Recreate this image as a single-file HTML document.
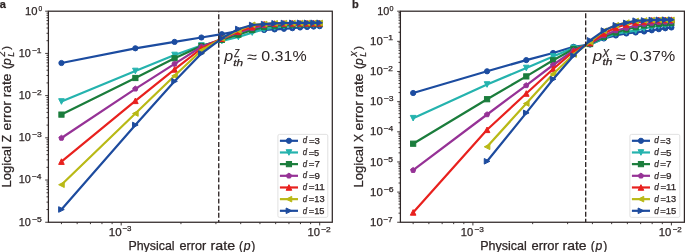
<!DOCTYPE html>
<html><head><meta charset="utf-8"><title>Logical error rates</title>
<style>html,body{margin:0;padding:0;background:#fff;width:685px;height:252px;overflow:hidden}</style>
</head><body>
<svg width="685" height="252" viewBox="0 0 685 252" style="display:block;will-change:transform">
<rect width="685" height="252" fill="#ffffff"/>
<g fill="#2e2626">
<clipPath id="clipa"><rect x="48.40" y="11.20" width="283.90" height="211.05"/></clipPath>
<g clip-path="url(#clipa)">
<polyline points="61.45,63.00 135.36,48.30 174.57,41.90 201.41,37.50 221.86,34.20 238.37,31.00 252.22,30.50 264.15,30.00 274.63,29.40 283.97,28.80 292.40,28.20 300.08,27.50 307.13,27.00 313.64,26.60 319.70,26.20" fill="none" stroke="#1c4ca0" stroke-width="2.2" stroke-linejoin="round" stroke-linecap="butt"/>
<g fill="#1c4ca0" stroke="#1c4ca0" stroke-width="1.0" stroke-linejoin="miter"><circle cx="61.45" cy="63.00" r="2.60"/><circle cx="135.36" cy="48.30" r="2.60"/><circle cx="174.57" cy="41.90" r="2.60"/><circle cx="201.41" cy="37.50" r="2.60"/><circle cx="221.86" cy="34.20" r="2.60"/><circle cx="238.37" cy="31.00" r="2.60"/><circle cx="252.22" cy="30.50" r="2.60"/><circle cx="264.15" cy="30.00" r="2.60"/><circle cx="274.63" cy="29.40" r="2.60"/><circle cx="283.97" cy="28.80" r="2.60"/><circle cx="292.40" cy="28.20" r="2.60"/><circle cx="300.08" cy="27.50" r="2.60"/><circle cx="307.13" cy="27.00" r="2.60"/><circle cx="313.64" cy="26.60" r="2.60"/><circle cx="319.70" cy="26.20" r="2.60"/></g>
<polyline points="61.45,101.50 135.36,71.00 174.57,55.00 201.41,45.50 221.86,41.00 238.37,37.00 252.22,32.60 264.15,29.30 274.63,27.50 283.97,26.30 292.40,25.60 300.08,25.10 307.13,24.80 313.64,24.60 319.70,24.50" fill="none" stroke="#25b3ae" stroke-width="2.2" stroke-linejoin="round" stroke-linecap="butt"/>
<g fill="#25b3ae" stroke="#25b3ae" stroke-width="1.0" stroke-linejoin="miter"><polygon points="61.45,104.30 58.65,98.70 64.25,98.70"/><polygon points="135.36,73.80 132.56,68.20 138.16,68.20"/><polygon points="174.57,57.80 171.77,52.20 177.37,52.20"/><polygon points="201.41,48.30 198.61,42.70 204.21,42.70"/><polygon points="221.86,43.80 219.06,38.20 224.66,38.20"/><polygon points="238.37,39.80 235.57,34.20 241.17,34.20"/><polygon points="252.22,35.40 249.42,29.80 255.02,29.80"/><polygon points="264.15,32.10 261.35,26.50 266.95,26.50"/><polygon points="274.63,30.30 271.83,24.70 277.43,24.70"/><polygon points="283.97,29.10 281.17,23.50 286.77,23.50"/><polygon points="292.40,28.40 289.60,22.80 295.20,22.80"/><polygon points="300.08,27.90 297.28,22.30 302.88,22.30"/><polygon points="307.13,27.60 304.33,22.00 309.93,22.00"/><polygon points="313.64,27.40 310.84,21.80 316.44,21.80"/><polygon points="319.70,27.30 316.90,21.70 322.50,21.70"/></g>
<polyline points="61.45,114.60 135.36,78.00 174.57,58.30 201.41,46.00 221.86,39.80 238.37,34.70 252.22,30.00 264.15,27.00 274.63,25.70 283.97,25.00 292.40,24.60 300.08,24.30 307.13,24.10 313.64,24.00 319.70,23.90" fill="none" stroke="#1b7d3c" stroke-width="2.2" stroke-linejoin="round" stroke-linecap="butt"/>
<g fill="#1b7d3c" stroke="#1b7d3c" stroke-width="1.0" stroke-linejoin="miter"><rect x="58.85" y="112.00" width="5.20" height="5.20"/><rect x="132.76" y="75.40" width="5.20" height="5.20"/><rect x="171.97" y="55.70" width="5.20" height="5.20"/><rect x="198.81" y="43.40" width="5.20" height="5.20"/><rect x="219.26" y="37.20" width="5.20" height="5.20"/><rect x="235.77" y="32.10" width="5.20" height="5.20"/><rect x="249.62" y="27.40" width="5.20" height="5.20"/><rect x="261.55" y="24.40" width="5.20" height="5.20"/><rect x="272.03" y="23.10" width="5.20" height="5.20"/><rect x="281.37" y="22.40" width="5.20" height="5.20"/><rect x="289.80" y="22.00" width="5.20" height="5.20"/><rect x="297.48" y="21.70" width="5.20" height="5.20"/><rect x="304.53" y="21.50" width="5.20" height="5.20"/><rect x="311.04" y="21.40" width="5.20" height="5.20"/><rect x="317.10" y="21.30" width="5.20" height="5.20"/></g>
<polyline points="61.45,138.00 135.36,88.80 174.57,63.90 201.41,46.80 221.86,39.00 238.37,32.50 252.22,28.30 264.15,25.50 274.63,24.50 283.97,24.00 292.40,23.80 300.08,23.70 307.13,23.60 313.64,23.50 319.70,23.50" fill="none" stroke="#963296" stroke-width="2.2" stroke-linejoin="round" stroke-linecap="butt"/>
<g fill="#963296" stroke="#963296" stroke-width="1.0" stroke-linejoin="miter"><polygon points="61.45,135.27 64.04,137.16 63.05,140.21 59.84,140.21 58.85,137.16"/><polygon points="135.36,86.07 137.96,87.96 136.97,91.01 133.76,91.01 132.77,87.96"/><polygon points="174.57,61.17 177.16,63.06 176.17,66.11 172.96,66.11 171.97,63.06"/><polygon points="201.41,44.07 204.01,45.96 203.02,49.01 199.81,49.01 198.82,45.96"/><polygon points="221.86,36.27 224.45,38.16 223.46,41.21 220.25,41.21 219.26,38.16"/><polygon points="238.37,29.77 240.96,31.66 239.97,34.71 236.76,34.71 235.77,31.66"/><polygon points="252.22,25.57 254.82,27.46 253.82,30.51 250.62,30.51 249.62,27.46"/><polygon points="264.15,22.77 266.75,24.66 265.76,27.71 262.55,27.71 261.56,24.66"/><polygon points="274.63,21.77 277.23,23.66 276.24,26.71 273.03,26.71 272.03,23.66"/><polygon points="283.97,21.27 286.57,23.16 285.58,26.21 282.37,26.21 281.38,23.16"/><polygon points="292.40,21.07 295.00,22.96 294.01,26.01 290.80,26.01 289.80,22.96"/><polygon points="300.08,20.97 302.67,22.86 301.68,25.91 298.47,25.91 297.48,22.86"/><polygon points="307.13,20.87 309.72,22.76 308.73,25.81 305.52,25.81 304.53,22.76"/><polygon points="313.64,20.77 316.24,22.66 315.25,25.71 312.04,25.71 311.05,22.66"/><polygon points="319.70,20.77 322.30,22.66 321.30,25.71 318.10,25.71 317.10,22.66"/></g>
<polyline points="61.45,161.60 135.36,100.80 174.57,69.40 201.41,48.50 221.86,38.60 238.37,31.50 252.22,27.00 264.15,24.10 274.63,23.50 283.97,23.30 292.40,23.30 300.08,23.30 307.13,23.30 313.64,23.30 319.70,23.30" fill="none" stroke="#e8211e" stroke-width="2.2" stroke-linejoin="round" stroke-linecap="butt"/>
<g fill="#e8211e" stroke="#e8211e" stroke-width="1.0" stroke-linejoin="miter"><polygon points="61.45,158.80 58.65,164.40 64.25,164.40"/><polygon points="135.36,98.00 132.56,103.60 138.16,103.60"/><polygon points="174.57,66.60 171.77,72.20 177.37,72.20"/><polygon points="201.41,45.70 198.61,51.30 204.21,51.30"/><polygon points="221.86,35.80 219.06,41.40 224.66,41.40"/><polygon points="238.37,28.70 235.57,34.30 241.17,34.30"/><polygon points="252.22,24.20 249.42,29.80 255.02,29.80"/><polygon points="264.15,21.30 261.35,26.90 266.95,26.90"/><polygon points="274.63,20.70 271.83,26.30 277.43,26.30"/><polygon points="283.97,20.50 281.17,26.10 286.77,26.10"/><polygon points="292.40,20.50 289.60,26.10 295.20,26.10"/><polygon points="300.08,20.50 297.28,26.10 302.88,26.10"/><polygon points="307.13,20.50 304.33,26.10 309.93,26.10"/><polygon points="313.64,20.50 310.84,26.10 316.44,26.10"/><polygon points="319.70,20.50 316.90,26.10 322.50,26.10"/></g>
<polyline points="61.45,184.70 135.36,113.50 174.57,75.80 201.41,50.50 221.86,38.40 238.37,30.50 252.22,24.80 264.15,24.00 274.63,23.30 283.97,23.10 292.40,23.00 300.08,23.00 307.13,23.00 313.64,23.00 319.70,23.00" fill="none" stroke="#b9b916" stroke-width="2.2" stroke-linejoin="round" stroke-linecap="butt"/>
<g fill="#b9b916" stroke="#b9b916" stroke-width="1.0" stroke-linejoin="miter"><polygon points="58.65,184.70 64.25,181.90 64.25,187.50"/><polygon points="132.56,113.50 138.16,110.70 138.16,116.30"/><polygon points="171.77,75.80 177.37,73.00 177.37,78.60"/><polygon points="198.61,50.50 204.21,47.70 204.21,53.30"/><polygon points="219.06,38.40 224.66,35.60 224.66,41.20"/><polygon points="235.57,30.50 241.17,27.70 241.17,33.30"/><polygon points="249.42,24.80 255.02,22.00 255.02,27.60"/><polygon points="261.35,24.00 266.95,21.20 266.95,26.80"/><polygon points="271.83,23.30 277.43,20.50 277.43,26.10"/><polygon points="281.17,23.10 286.77,20.30 286.77,25.90"/><polygon points="289.60,23.00 295.20,20.20 295.20,25.80"/><polygon points="297.28,23.00 302.88,20.20 302.88,25.80"/><polygon points="304.33,23.00 309.93,20.20 309.93,25.80"/><polygon points="310.84,23.00 316.44,20.20 316.44,25.80"/><polygon points="316.90,23.00 322.50,20.20 322.50,25.80"/></g>
<polyline points="61.45,209.50 135.36,125.00 174.57,81.30 201.41,53.50 221.86,38.30 238.37,29.00 252.22,25.00 264.15,24.10 274.63,23.30 283.97,23.00 292.40,22.80 300.08,22.80 307.13,22.80 313.64,22.80 319.70,22.80" fill="none" stroke="#1d4b9e" stroke-width="2.2" stroke-linejoin="round" stroke-linecap="butt"/>
<g fill="#1d4b9e" stroke="#1d4b9e" stroke-width="1.0" stroke-linejoin="miter"><polygon points="64.25,209.50 58.65,206.70 58.65,212.30"/><polygon points="138.16,125.00 132.56,122.20 132.56,127.80"/><polygon points="177.37,81.30 171.77,78.50 171.77,84.10"/><polygon points="204.21,53.50 198.61,50.70 198.61,56.30"/><polygon points="224.66,38.30 219.06,35.50 219.06,41.10"/><polygon points="241.17,29.00 235.57,26.20 235.57,31.80"/><polygon points="255.02,25.00 249.42,22.20 249.42,27.80"/><polygon points="266.95,24.10 261.35,21.30 261.35,26.90"/><polygon points="277.43,23.30 271.83,20.50 271.83,26.10"/><polygon points="286.77,23.00 281.17,20.20 281.17,25.80"/><polygon points="295.20,22.80 289.60,20.00 289.60,25.60"/><polygon points="302.88,22.80 297.28,20.00 297.28,25.60"/><polygon points="309.93,22.80 304.33,20.00 304.33,25.60"/><polygon points="316.44,22.80 310.84,20.00 310.84,25.60"/><polygon points="322.50,22.80 316.90,20.00 316.90,25.60"/></g>
<line x1="218.74" y1="11.20" x2="218.74" y2="222.25" stroke="#2e2626" stroke-width="1.35" stroke-dasharray="4.95,2.14" stroke-dashoffset="3.96"/>
</g>
<rect x="48.40" y="11.20" width="283.90" height="211.05" fill="none" stroke="#2e2626" stroke-width="1.25"/>
<path d="M61.45 222.25v1.9 M77.16 222.25v1.9 M90.45 222.25v1.9 M101.96 222.25v1.9 M112.12 222.25v1.9 M121.20 222.25v3.2 M180.95 222.25v1.9 M215.91 222.25v1.9 M240.71 222.25v1.9 M259.95 222.25v1.9 M275.66 222.25v1.9 M288.95 222.25v1.9 M300.46 222.25v1.9 M310.62 222.25v1.9 M319.70 222.25v3.2 M48.40 11.20h-3.2 M48.40 40.70h-1.9 M48.40 33.27h-1.9 M48.40 28.00h-1.9 M48.40 23.91h-1.9 M48.40 20.56h-1.9 M48.40 17.74h-1.9 M48.40 15.29h-1.9 M48.40 13.13h-1.9 M48.40 53.41h-3.2 M48.40 82.91h-1.9 M48.40 75.48h-1.9 M48.40 70.21h-1.9 M48.40 66.12h-1.9 M48.40 62.77h-1.9 M48.40 59.95h-1.9 M48.40 57.50h-1.9 M48.40 55.34h-1.9 M48.40 95.62h-3.2 M48.40 125.12h-1.9 M48.40 117.69h-1.9 M48.40 112.42h-1.9 M48.40 108.33h-1.9 M48.40 104.98h-1.9 M48.40 102.16h-1.9 M48.40 99.71h-1.9 M48.40 97.55h-1.9 M48.40 137.83h-3.2 M48.40 167.33h-1.9 M48.40 159.90h-1.9 M48.40 154.63h-1.9 M48.40 150.54h-1.9 M48.40 147.19h-1.9 M48.40 144.37h-1.9 M48.40 141.92h-1.9 M48.40 139.76h-1.9 M48.40 180.04h-3.2 M48.40 209.54h-1.9 M48.40 202.11h-1.9 M48.40 196.84h-1.9 M48.40 192.75h-1.9 M48.40 189.40h-1.9 M48.40 186.58h-1.9 M48.40 184.13h-1.9 M48.40 181.97h-1.9 M48.40 222.25h-3.2" stroke="#2e2626" stroke-width="0.9" fill="none"/>
<rect x="277.90" y="134.40" width="49.90" height="83.00" rx="1.6" fill="#ffffff" fill-opacity="0.8" stroke="#dedede" stroke-width="0.9"/>
<line x1="279.90" y1="140.80" x2="298.00" y2="140.80" stroke="#1c4ca0" stroke-width="2.2"/>
<g fill="#1c4ca0" stroke="#1c4ca0" stroke-width="1.0"><circle cx="288.95" cy="140.80" r="2.60"/></g>
<line x1="279.90" y1="152.47" x2="298.00" y2="152.47" stroke="#25b3ae" stroke-width="2.2"/>
<g fill="#25b3ae" stroke="#25b3ae" stroke-width="1.0"><polygon points="288.95,155.27 286.15,149.67 291.75,149.67"/></g>
<line x1="279.90" y1="164.13" x2="298.00" y2="164.13" stroke="#1b7d3c" stroke-width="2.2"/>
<g fill="#1b7d3c" stroke="#1b7d3c" stroke-width="1.0"><rect x="286.35" y="161.53" width="5.20" height="5.20"/></g>
<line x1="279.90" y1="175.80" x2="298.00" y2="175.80" stroke="#963296" stroke-width="2.2"/>
<g fill="#963296" stroke="#963296" stroke-width="1.0"><polygon points="288.95,173.07 291.55,174.96 290.55,178.01 287.35,178.01 286.35,174.96"/></g>
<line x1="279.90" y1="187.47" x2="298.00" y2="187.47" stroke="#e8211e" stroke-width="2.2"/>
<g fill="#e8211e" stroke="#e8211e" stroke-width="1.0"><polygon points="288.95,184.67 286.15,190.27 291.75,190.27"/></g>
<line x1="279.90" y1="199.14" x2="298.00" y2="199.14" stroke="#b9b916" stroke-width="2.2"/>
<g fill="#b9b916" stroke="#b9b916" stroke-width="1.0"><polygon points="286.15,199.14 291.75,196.34 291.75,201.94"/></g>
<line x1="279.90" y1="210.80" x2="298.00" y2="210.80" stroke="#1d4b9e" stroke-width="2.2"/>
<g fill="#1d4b9e" stroke="#1d4b9e" stroke-width="1.0"><polygon points="291.75,210.80 286.15,208.00 286.15,213.60"/></g>
<clipPath id="clipb"><rect x="400.40" y="11.20" width="284.00" height="211.05"/></clipPath>
<g clip-path="url(#clipb)">
<polyline points="413.15,93.00 487.06,71.30 526.27,60.10 553.11,53.00 573.56,46.80 590.07,44.50 603.92,38.50 615.85,35.50 626.33,33.50 635.67,32.50 644.10,31.50 651.78,30.30 658.83,29.20 665.34,28.30 671.40,27.50" fill="none" stroke="#1c4ca0" stroke-width="2.2" stroke-linejoin="round" stroke-linecap="butt"/>
<g fill="#1c4ca0" stroke="#1c4ca0" stroke-width="1.0" stroke-linejoin="miter"><circle cx="413.15" cy="93.00" r="2.60"/><circle cx="487.06" cy="71.30" r="2.60"/><circle cx="526.27" cy="60.10" r="2.60"/><circle cx="553.11" cy="53.00" r="2.60"/><circle cx="573.56" cy="46.80" r="2.60"/><circle cx="590.07" cy="44.50" r="2.60"/><circle cx="603.92" cy="38.50" r="2.60"/><circle cx="615.85" cy="35.50" r="2.60"/><circle cx="626.33" cy="33.50" r="2.60"/><circle cx="635.67" cy="32.50" r="2.60"/><circle cx="644.10" cy="31.50" r="2.60"/><circle cx="651.78" cy="30.30" r="2.60"/><circle cx="658.83" cy="29.20" r="2.60"/><circle cx="665.34" cy="28.30" r="2.60"/><circle cx="671.40" cy="27.50" r="2.60"/></g>
<polyline points="413.15,118.20 487.06,84.50 526.27,68.00 553.11,56.50 573.56,47.80 590.07,44.50 603.92,38.00 615.85,33.60 626.33,31.80 635.67,30.70 644.10,28.50 651.78,27.00 658.83,26.00 665.34,25.20 671.40,24.50" fill="none" stroke="#25b3ae" stroke-width="2.2" stroke-linejoin="round" stroke-linecap="butt"/>
<g fill="#25b3ae" stroke="#25b3ae" stroke-width="1.0" stroke-linejoin="miter"><polygon points="413.15,121.00 410.35,115.40 415.95,115.40"/><polygon points="487.06,87.30 484.26,81.70 489.86,81.70"/><polygon points="526.27,70.80 523.47,65.20 529.07,65.20"/><polygon points="553.11,59.30 550.31,53.70 555.91,53.70"/><polygon points="573.56,50.60 570.76,45.00 576.36,45.00"/><polygon points="590.07,47.30 587.27,41.70 592.87,41.70"/><polygon points="603.92,40.80 601.12,35.20 606.72,35.20"/><polygon points="615.85,36.40 613.05,30.80 618.65,30.80"/><polygon points="626.33,34.60 623.53,29.00 629.13,29.00"/><polygon points="635.67,33.50 632.87,27.90 638.47,27.90"/><polygon points="644.10,31.30 641.30,25.70 646.90,25.70"/><polygon points="651.78,29.80 648.98,24.20 654.58,24.20"/><polygon points="658.83,28.80 656.03,23.20 661.63,23.20"/><polygon points="665.34,28.00 662.54,22.40 668.14,22.40"/><polygon points="671.40,27.30 668.60,21.70 674.20,21.70"/></g>
<polyline points="413.15,143.70 487.06,99.20 526.27,76.40 553.11,60.30 573.56,49.00 590.07,44.00 603.92,36.80 615.85,32.50 626.33,29.50 635.67,27.20 644.10,25.50 651.78,24.50 658.83,23.80 665.34,23.20 671.40,22.90" fill="none" stroke="#1b7d3c" stroke-width="2.2" stroke-linejoin="round" stroke-linecap="butt"/>
<g fill="#1b7d3c" stroke="#1b7d3c" stroke-width="1.0" stroke-linejoin="miter"><rect x="410.55" y="141.10" width="5.20" height="5.20"/><rect x="484.46" y="96.60" width="5.20" height="5.20"/><rect x="523.67" y="73.80" width="5.20" height="5.20"/><rect x="550.51" y="57.70" width="5.20" height="5.20"/><rect x="570.96" y="46.40" width="5.20" height="5.20"/><rect x="587.47" y="41.40" width="5.20" height="5.20"/><rect x="601.32" y="34.20" width="5.20" height="5.20"/><rect x="613.25" y="29.90" width="5.20" height="5.20"/><rect x="623.73" y="26.90" width="5.20" height="5.20"/><rect x="633.07" y="24.60" width="5.20" height="5.20"/><rect x="641.50" y="22.90" width="5.20" height="5.20"/><rect x="649.18" y="21.90" width="5.20" height="5.20"/><rect x="656.23" y="21.20" width="5.20" height="5.20"/><rect x="662.74" y="20.60" width="5.20" height="5.20"/><rect x="668.80" y="20.30" width="5.20" height="5.20"/></g>
<polyline points="413.15,170.20 487.06,114.50 526.27,85.40 553.11,65.00 573.56,50.50 590.07,43.50 603.92,35.50 615.85,30.50 626.33,28.00 635.67,25.50 644.10,24.00 651.78,23.00 658.83,22.30 665.34,21.90 671.40,21.60" fill="none" stroke="#963296" stroke-width="2.2" stroke-linejoin="round" stroke-linecap="butt"/>
<g fill="#963296" stroke="#963296" stroke-width="1.0" stroke-linejoin="miter"><polygon points="413.15,167.47 415.74,169.36 414.75,172.41 411.54,172.41 410.55,169.36"/><polygon points="487.06,111.77 489.66,113.66 488.67,116.71 485.46,116.71 484.47,113.66"/><polygon points="526.27,82.67 528.86,84.56 527.87,87.61 524.66,87.61 523.67,84.56"/><polygon points="553.11,62.27 555.71,64.16 554.72,67.21 551.51,67.21 550.52,64.16"/><polygon points="573.56,47.77 576.15,49.66 575.16,52.71 571.95,52.71 570.96,49.66"/><polygon points="590.07,40.77 592.66,42.66 591.67,45.71 588.46,45.71 587.47,42.66"/><polygon points="603.92,32.77 606.52,34.66 605.52,37.71 602.32,37.71 601.32,34.66"/><polygon points="615.85,27.77 618.45,29.66 617.46,32.71 614.25,32.71 613.26,29.66"/><polygon points="626.33,25.27 628.93,27.16 627.94,30.21 624.73,30.21 623.73,27.16"/><polygon points="635.67,22.77 638.27,24.66 637.28,27.71 634.07,27.71 633.08,24.66"/><polygon points="644.10,21.27 646.70,23.16 645.71,26.21 642.50,26.21 641.50,23.16"/><polygon points="651.78,20.27 654.37,22.16 653.38,25.21 650.17,25.21 649.18,22.16"/><polygon points="658.83,19.57 661.42,21.46 660.43,24.51 657.22,24.51 656.23,21.46"/><polygon points="665.34,19.17 667.94,21.06 666.95,24.11 663.74,24.11 662.75,21.06"/><polygon points="671.40,18.87 674.00,20.76 673.00,23.81 669.80,23.81 668.80,20.76"/></g>
<polyline points="413.15,212.40 487.06,129.80 526.27,93.50 553.11,69.00 573.56,51.50 590.07,43.00 603.92,33.40 615.85,27.50 626.33,24.50 635.67,22.50 644.10,21.50 651.78,20.20 658.83,19.90 665.34,19.80 671.40,19.70" fill="none" stroke="#e8211e" stroke-width="2.2" stroke-linejoin="round" stroke-linecap="butt"/>
<g fill="#e8211e" stroke="#e8211e" stroke-width="1.0" stroke-linejoin="miter"><polygon points="413.15,209.60 410.35,215.20 415.95,215.20"/><polygon points="487.06,127.00 484.26,132.60 489.86,132.60"/><polygon points="526.27,90.70 523.47,96.30 529.07,96.30"/><polygon points="553.11,66.20 550.31,71.80 555.91,71.80"/><polygon points="573.56,48.70 570.76,54.30 576.36,54.30"/><polygon points="590.07,40.20 587.27,45.80 592.87,45.80"/><polygon points="603.92,30.60 601.12,36.20 606.72,36.20"/><polygon points="615.85,24.70 613.05,30.30 618.65,30.30"/><polygon points="626.33,21.70 623.53,27.30 629.13,27.30"/><polygon points="635.67,19.70 632.87,25.30 638.47,25.30"/><polygon points="644.10,18.70 641.30,24.30 646.90,24.30"/><polygon points="651.78,17.40 648.98,23.00 654.58,23.00"/><polygon points="658.83,17.10 656.03,22.70 661.63,22.70"/><polygon points="665.34,17.00 662.54,22.60 668.14,22.60"/><polygon points="671.40,16.90 668.60,22.50 674.20,22.50"/></g>
<polyline points="487.06,146.80 526.27,103.50 553.11,74.00 573.56,54.50 590.07,42.00 603.92,30.80 615.85,25.30 626.33,22.60 635.67,21.00 644.10,20.50 651.78,20.10 658.83,20.00 665.34,19.90 671.40,19.90" fill="none" stroke="#b9b916" stroke-width="2.2" stroke-linejoin="round" stroke-linecap="butt"/>
<g fill="#b9b916" stroke="#b9b916" stroke-width="1.0" stroke-linejoin="miter"><polygon points="484.26,146.80 489.86,144.00 489.86,149.60"/><polygon points="523.47,103.50 529.07,100.70 529.07,106.30"/><polygon points="550.31,74.00 555.91,71.20 555.91,76.80"/><polygon points="570.76,54.50 576.36,51.70 576.36,57.30"/><polygon points="587.27,42.00 592.87,39.20 592.87,44.80"/><polygon points="601.12,30.80 606.72,28.00 606.72,33.60"/><polygon points="613.05,25.30 618.65,22.50 618.65,28.10"/><polygon points="623.53,22.60 629.13,19.80 629.13,25.40"/><polygon points="632.87,21.00 638.47,18.20 638.47,23.80"/><polygon points="641.30,20.50 646.90,17.70 646.90,23.30"/><polygon points="648.98,20.10 654.58,17.30 654.58,22.90"/><polygon points="656.03,20.00 661.63,17.20 661.63,22.80"/><polygon points="662.54,19.90 668.14,17.10 668.14,22.70"/><polygon points="668.60,19.90 674.20,17.10 674.20,22.70"/></g>
<polyline points="487.06,161.30 526.27,112.90 553.11,79.20 573.56,55.70 590.07,40.40 603.92,30.60 615.85,25.30 626.33,22.90 635.67,20.70 644.10,20.50 651.78,20.00 658.83,19.80 665.34,19.70 671.40,19.70" fill="none" stroke="#1d4b9e" stroke-width="2.2" stroke-linejoin="round" stroke-linecap="butt"/>
<g fill="#1d4b9e" stroke="#1d4b9e" stroke-width="1.0" stroke-linejoin="miter"><polygon points="489.86,161.30 484.26,158.50 484.26,164.10"/><polygon points="529.07,112.90 523.47,110.10 523.47,115.70"/><polygon points="555.91,79.20 550.31,76.40 550.31,82.00"/><polygon points="576.36,55.70 570.76,52.90 570.76,58.50"/><polygon points="592.87,40.40 587.27,37.60 587.27,43.20"/><polygon points="606.72,30.60 601.12,27.80 601.12,33.40"/><polygon points="618.65,25.30 613.05,22.50 613.05,28.10"/><polygon points="629.13,22.90 623.53,20.10 623.53,25.70"/><polygon points="638.47,20.70 632.87,17.90 632.87,23.50"/><polygon points="646.90,20.50 641.30,17.70 641.30,23.30"/><polygon points="654.58,20.00 648.98,17.20 648.98,22.80"/><polygon points="661.63,19.80 656.03,17.00 656.03,22.60"/><polygon points="668.14,19.70 662.54,16.90 662.54,22.50"/><polygon points="674.20,19.70 668.60,16.90 668.60,22.50"/></g>
<line x1="585.69" y1="11.20" x2="585.69" y2="222.25" stroke="#2e2626" stroke-width="1.35" stroke-dasharray="4.95,2.14" stroke-dashoffset="5.06"/>
</g>
<rect x="400.40" y="11.20" width="284.00" height="211.05" fill="none" stroke="#2e2626" stroke-width="1.25"/>
<path d="M413.15 222.25v1.9 M428.86 222.25v1.9 M442.15 222.25v1.9 M453.66 222.25v1.9 M463.82 222.25v1.9 M472.90 222.25v3.2 M532.65 222.25v1.9 M567.61 222.25v1.9 M592.41 222.25v1.9 M611.65 222.25v1.9 M627.36 222.25v1.9 M640.65 222.25v1.9 M652.16 222.25v1.9 M662.32 222.25v1.9 M671.40 222.25v3.2 M400.40 11.20h-3.2 M400.40 32.27h-1.9 M400.40 26.96h-1.9 M400.40 23.20h-1.9 M400.40 20.28h-1.9 M400.40 17.89h-1.9 M400.40 15.87h-1.9 M400.40 14.12h-1.9 M400.40 12.58h-1.9 M400.40 41.35h-3.2 M400.40 62.42h-1.9 M400.40 57.11h-1.9 M400.40 53.35h-1.9 M400.40 50.43h-1.9 M400.40 48.04h-1.9 M400.40 46.02h-1.9 M400.40 44.27h-1.9 M400.40 42.73h-1.9 M400.40 71.50h-3.2 M400.40 92.57h-1.9 M400.40 87.26h-1.9 M400.40 83.50h-1.9 M400.40 80.58h-1.9 M400.40 78.19h-1.9 M400.40 76.17h-1.9 M400.40 74.42h-1.9 M400.40 72.88h-1.9 M400.40 101.65h-3.2 M400.40 122.72h-1.9 M400.40 117.41h-1.9 M400.40 113.65h-1.9 M400.40 110.73h-1.9 M400.40 108.34h-1.9 M400.40 106.32h-1.9 M400.40 104.57h-1.9 M400.40 103.03h-1.9 M400.40 131.80h-3.2 M400.40 152.87h-1.9 M400.40 147.56h-1.9 M400.40 143.80h-1.9 M400.40 140.88h-1.9 M400.40 138.49h-1.9 M400.40 136.47h-1.9 M400.40 134.72h-1.9 M400.40 133.18h-1.9 M400.40 161.95h-3.2 M400.40 183.02h-1.9 M400.40 177.71h-1.9 M400.40 173.95h-1.9 M400.40 171.03h-1.9 M400.40 168.64h-1.9 M400.40 166.62h-1.9 M400.40 164.87h-1.9 M400.40 163.33h-1.9 M400.40 192.10h-3.2 M400.40 213.17h-1.9 M400.40 207.86h-1.9 M400.40 204.10h-1.9 M400.40 201.18h-1.9 M400.40 198.79h-1.9 M400.40 196.77h-1.9 M400.40 195.02h-1.9 M400.40 193.48h-1.9 M400.40 222.25h-3.2" stroke="#2e2626" stroke-width="0.9" fill="none"/>
<rect x="629.90" y="134.40" width="49.90" height="83.00" rx="1.6" fill="#ffffff" fill-opacity="0.8" stroke="#dedede" stroke-width="0.9"/>
<line x1="631.90" y1="140.80" x2="650.00" y2="140.80" stroke="#1c4ca0" stroke-width="2.2"/>
<g fill="#1c4ca0" stroke="#1c4ca0" stroke-width="1.0"><circle cx="640.95" cy="140.80" r="2.60"/></g>
<line x1="631.90" y1="152.47" x2="650.00" y2="152.47" stroke="#25b3ae" stroke-width="2.2"/>
<g fill="#25b3ae" stroke="#25b3ae" stroke-width="1.0"><polygon points="640.95,155.27 638.15,149.67 643.75,149.67"/></g>
<line x1="631.90" y1="164.13" x2="650.00" y2="164.13" stroke="#1b7d3c" stroke-width="2.2"/>
<g fill="#1b7d3c" stroke="#1b7d3c" stroke-width="1.0"><rect x="638.35" y="161.53" width="5.20" height="5.20"/></g>
<line x1="631.90" y1="175.80" x2="650.00" y2="175.80" stroke="#963296" stroke-width="2.2"/>
<g fill="#963296" stroke="#963296" stroke-width="1.0"><polygon points="640.95,173.07 643.55,174.96 642.55,178.01 639.35,178.01 638.35,174.96"/></g>
<line x1="631.90" y1="187.47" x2="650.00" y2="187.47" stroke="#e8211e" stroke-width="2.2"/>
<g fill="#e8211e" stroke="#e8211e" stroke-width="1.0"><polygon points="640.95,184.67 638.15,190.27 643.75,190.27"/></g>
<line x1="631.90" y1="199.14" x2="650.00" y2="199.14" stroke="#b9b916" stroke-width="2.2"/>
<g fill="#b9b916" stroke="#b9b916" stroke-width="1.0"><polygon points="638.15,199.14 643.75,196.34 643.75,201.94"/></g>
<line x1="631.90" y1="210.80" x2="650.00" y2="210.80" stroke="#1d4b9e" stroke-width="2.2"/>
<g fill="#1d4b9e" stroke="#1d4b9e" stroke-width="1.0"><polygon points="643.75,210.80 638.15,208.00 638.15,213.60"/></g>
<text id="t_a" x="-0.200" y="8.200" style="font-family:'Liberation Sans',sans-serif;font-size:11.000px;stroke:#2e2626;stroke-width:0.25px;font-weight:bold">a</text>
<text id="t_ay0m" x="24.998" y="14.978" textLength="12.522" lengthAdjust="spacingAndGlyphs" style="font-family:'Liberation Sans',sans-serif;font-size:11.200px;stroke:#2e2626;stroke-width:0.25px">10</text>
<text id="t_ay0s" x="38.502" y="10.618" textLength="3.699" lengthAdjust="spacingAndGlyphs" style="font-family:'Liberation Sans',sans-serif;font-size:7.200px;stroke:#2e2626;stroke-width:0.25px">0</text>
<text id="t_ay1m" x="18.641" y="57.182" textLength="12.101" lengthAdjust="spacingAndGlyphs" style="font-family:'Liberation Sans',sans-serif;font-size:11.200px;stroke:#2e2626;stroke-width:0.25px">10</text>
<text id="t_ay1s" x="31.948" y="52.982" textLength="9.635" lengthAdjust="spacingAndGlyphs" style="font-family:'Liberation Sans',sans-serif;font-size:7.200px;stroke:#2e2626;stroke-width:0.25px">−1</text>
<text id="t_ay2m" x="18.641" y="99.206" textLength="12.101" lengthAdjust="spacingAndGlyphs" style="font-family:'Liberation Sans',sans-serif;font-size:11.200px;stroke:#2e2626;stroke-width:0.25px">10</text>
<text id="t_ay2s" x="32.049" y="95.006" textLength="9.548" lengthAdjust="spacingAndGlyphs" style="font-family:'Liberation Sans',sans-serif;font-size:7.200px;stroke:#2e2626;stroke-width:0.25px">−2</text>
<text id="t_ay3m" x="18.641" y="141.230" textLength="12.101" lengthAdjust="spacingAndGlyphs" style="font-family:'Liberation Sans',sans-serif;font-size:11.200px;stroke:#2e2626;stroke-width:0.25px">10</text>
<text id="t_ay3s" x="32.074" y="137.482" textLength="9.732" lengthAdjust="spacingAndGlyphs" style="font-family:'Liberation Sans',sans-serif;font-size:7.200px;stroke:#2e2626;stroke-width:0.25px">−3</text>
<text id="t_ay4m" x="18.641" y="183.254" textLength="12.101" lengthAdjust="spacingAndGlyphs" style="font-family:'Liberation Sans',sans-serif;font-size:11.200px;stroke:#2e2626;stroke-width:0.25px">10</text>
<text id="t_ay4s" x="31.874" y="179.243" textLength="9.528" lengthAdjust="spacingAndGlyphs" style="font-family:'Liberation Sans',sans-serif;font-size:7.200px;stroke:#2e2626;stroke-width:0.25px">−4</text>
<text id="t_ay5m" x="18.641" y="226.178" textLength="12.101" lengthAdjust="spacingAndGlyphs" style="font-family:'Liberation Sans',sans-serif;font-size:11.200px;stroke:#2e2626;stroke-width:0.25px">10</text>
<text id="t_ay5s" x="32.086" y="221.560" textLength="9.759" lengthAdjust="spacingAndGlyphs" style="font-family:'Liberation Sans',sans-serif;font-size:7.200px;stroke:#2e2626;stroke-width:0.25px">−5</text>
<text id="t_ax3m" x="108.798" y="235.718" textLength="12.860" lengthAdjust="spacingAndGlyphs" style="font-family:'Liberation Sans',sans-serif;font-size:11.200px;stroke:#2e2626;stroke-width:0.25px">10</text>
<text id="t_ax3s" x="122.452" y="231.458" textLength="9.059" lengthAdjust="spacingAndGlyphs" style="font-family:'Liberation Sans',sans-serif;font-size:7.600px;stroke:#2e2626;stroke-width:0.25px">−3</text>
<text id="t_ax2m" x="307.508" y="235.718" textLength="12.489" lengthAdjust="spacingAndGlyphs" style="font-family:'Liberation Sans',sans-serif;font-size:11.200px;stroke:#2e2626;stroke-width:0.25px">10</text>
<text id="t_ax2s" x="321.173" y="231.978" textLength="9.559" lengthAdjust="spacingAndGlyphs" style="font-family:'Liberation Sans',sans-serif;font-size:7.600px;stroke:#2e2626;stroke-width:0.25px">−2</text>
<text id="t_aan_p" x="224.197" y="61.336" textLength="8.897" lengthAdjust="spacingAndGlyphs" style="font-family:'Liberation Sans',sans-serif;font-size:14.900px;font-style:italic">p</text>
<text id="t_aan_S" x="234.224" y="56.938" textLength="5.019" lengthAdjust="spacingAndGlyphs" style="font-family:'Liberation Sans',sans-serif;font-size:10.600px;stroke:#2e2626;stroke-width:0.25px;font-style:italic">Z</text>
<text id="t_aan_th" x="233.309" y="65.662" textLength="9.866" lengthAdjust="spacingAndGlyphs" style="font-family:'Liberation Sans',sans-serif;font-size:9.600px;stroke:#2e2626;stroke-width:0.25px;font-style:italic">th</text>
<text id="t_aan_ap" x="246.783" y="62.100" textLength="10.009" lengthAdjust="spacingAndGlyphs" style="font-family:'Liberation Sans',sans-serif;font-size:14.900px">≈</text>
<text id="t_aan_v" x="261.286" y="61.109" textLength="45.354" lengthAdjust="spacingAndGlyphs" style="font-family:'Liberation Sans',sans-serif;font-size:14.900px">0.31%</text>
<text id="t_alg3d" x="302.704" y="143.475" textLength="4.339" lengthAdjust="spacingAndGlyphs" style="font-family:'Liberation Sans',sans-serif;font-size:8.600px;stroke:#2e2626;stroke-width:0.25px;font-style:italic">d</text>
<text id="t_alg3v" x="308.958" y="143.973" textLength="10.931" lengthAdjust="spacingAndGlyphs" style="font-family:'Liberation Sans',sans-serif;font-size:8.400px;stroke:#2e2626;stroke-width:0.25px">=3</text>
<text id="t_alg5d" x="302.702" y="155.144" textLength="4.337" lengthAdjust="spacingAndGlyphs" style="font-family:'Liberation Sans',sans-serif;font-size:8.600px;stroke:#2e2626;stroke-width:0.25px;font-style:italic">d</text>
<text id="t_alg5v" x="308.688" y="155.651" textLength="10.512" lengthAdjust="spacingAndGlyphs" style="font-family:'Liberation Sans',sans-serif;font-size:8.400px;stroke:#2e2626;stroke-width:0.25px">=5</text>
<text id="t_alg7d" x="302.702" y="166.818" textLength="4.337" lengthAdjust="spacingAndGlyphs" style="font-family:'Liberation Sans',sans-serif;font-size:8.600px;stroke:#2e2626;stroke-width:0.25px;font-style:italic">d</text>
<text id="t_alg7v" x="308.885" y="167.313" textLength="11.038" lengthAdjust="spacingAndGlyphs" style="font-family:'Liberation Sans',sans-serif;font-size:8.400px;stroke:#2e2626;stroke-width:0.25px">=7</text>
<text id="t_alg9d" x="302.702" y="178.493" textLength="4.337" lengthAdjust="spacingAndGlyphs" style="font-family:'Liberation Sans',sans-serif;font-size:8.600px;stroke:#2e2626;stroke-width:0.25px;font-style:italic">d</text>
<text id="t_alg9v" x="308.910" y="178.727" textLength="11.074" lengthAdjust="spacingAndGlyphs" style="font-family:'Liberation Sans',sans-serif;font-size:8.400px;stroke:#2e2626;stroke-width:0.25px">=9</text>
<text id="t_alg11d" x="302.702" y="190.167" textLength="4.337" lengthAdjust="spacingAndGlyphs" style="font-family:'Liberation Sans',sans-serif;font-size:8.600px;stroke:#2e2626;stroke-width:0.25px;font-style:italic">d</text>
<text id="t_alg11v" x="308.767" y="190.315" textLength="16.053" lengthAdjust="spacingAndGlyphs" style="font-family:'Liberation Sans',sans-serif;font-size:8.400px;stroke:#2e2626;stroke-width:0.25px">=11</text>
<text id="t_alg13d" x="302.702" y="201.841" textLength="4.337" lengthAdjust="spacingAndGlyphs" style="font-family:'Liberation Sans',sans-serif;font-size:8.600px;stroke:#2e2626;stroke-width:0.25px;font-style:italic">d</text>
<text id="t_alg13v" x="308.871" y="201.989" textLength="15.678" lengthAdjust="spacingAndGlyphs" style="font-family:'Liberation Sans',sans-serif;font-size:8.400px;stroke:#2e2626;stroke-width:0.25px">=13</text>
<text id="t_alg15d" x="302.702" y="213.515" textLength="4.337" lengthAdjust="spacingAndGlyphs" style="font-family:'Liberation Sans',sans-serif;font-size:8.600px;stroke:#2e2626;stroke-width:0.25px;font-style:italic">d</text>
<text id="t_alg15v" x="308.831" y="213.663" textLength="15.702" lengthAdjust="spacingAndGlyphs" style="font-family:'Liberation Sans',sans-serif;font-size:8.400px;stroke:#2e2626;stroke-width:0.25px">=15</text>
<text id="t_b" x="352.017" y="8.200" style="font-family:'Liberation Sans',sans-serif;font-size:11.000px;stroke:#2e2626;stroke-width:0.25px;font-weight:bold">b</text>
<text id="t_by0m" x="377.299" y="14.978" textLength="12.035" lengthAdjust="spacingAndGlyphs" style="font-family:'Liberation Sans',sans-serif;font-size:11.200px;stroke:#2e2626;stroke-width:0.25px">10</text>
<text id="t_by0s" x="389.611" y="10.578" textLength="3.972" lengthAdjust="spacingAndGlyphs" style="font-family:'Liberation Sans',sans-serif;font-size:7.200px;stroke:#2e2626;stroke-width:0.25px">0</text>
<text id="t_by1m" x="370.069" y="44.533" textLength="12.712" lengthAdjust="spacingAndGlyphs" style="font-family:'Liberation Sans',sans-serif;font-size:11.200px;stroke:#2e2626;stroke-width:0.25px">10</text>
<text id="t_by1s" x="383.329" y="40.333" textLength="9.771" lengthAdjust="spacingAndGlyphs" style="font-family:'Liberation Sans',sans-serif;font-size:7.200px;stroke:#2e2626;stroke-width:0.25px">−1</text>
<text id="t_by2m" x="370.069" y="74.807" textLength="12.712" lengthAdjust="spacingAndGlyphs" style="font-family:'Liberation Sans',sans-serif;font-size:11.200px;stroke:#2e2626;stroke-width:0.25px">10</text>
<text id="t_by2s" x="383.373" y="70.607" textLength="9.360" lengthAdjust="spacingAndGlyphs" style="font-family:'Liberation Sans',sans-serif;font-size:7.200px;stroke:#2e2626;stroke-width:0.25px">−2</text>
<text id="t_by3m" x="370.069" y="105.081" textLength="12.712" lengthAdjust="spacingAndGlyphs" style="font-family:'Liberation Sans',sans-serif;font-size:11.200px;stroke:#2e2626;stroke-width:0.25px">10</text>
<text id="t_by3s" x="383.722" y="101.273" textLength="9.781" lengthAdjust="spacingAndGlyphs" style="font-family:'Liberation Sans',sans-serif;font-size:7.200px;stroke:#2e2626;stroke-width:0.25px">−3</text>
<text id="t_by4m" x="370.069" y="135.355" textLength="12.712" lengthAdjust="spacingAndGlyphs" style="font-family:'Liberation Sans',sans-serif;font-size:11.200px;stroke:#2e2626;stroke-width:0.25px">10</text>
<text id="t_by4s" x="383.493" y="131.131" textLength="9.669" lengthAdjust="spacingAndGlyphs" style="font-family:'Liberation Sans',sans-serif;font-size:7.200px;stroke:#2e2626;stroke-width:0.25px">−4</text>
<text id="t_by5m" x="370.069" y="165.630" textLength="12.712" lengthAdjust="spacingAndGlyphs" style="font-family:'Liberation Sans',sans-serif;font-size:11.200px;stroke:#2e2626;stroke-width:0.25px">10</text>
<text id="t_by5s" x="383.410" y="161.813" textLength="9.689" lengthAdjust="spacingAndGlyphs" style="font-family:'Liberation Sans',sans-serif;font-size:7.200px;stroke:#2e2626;stroke-width:0.25px">−5</text>
<text id="t_by6m" x="370.069" y="195.904" textLength="12.712" lengthAdjust="spacingAndGlyphs" style="font-family:'Liberation Sans',sans-serif;font-size:11.200px;stroke:#2e2626;stroke-width:0.25px">10</text>
<text id="t_by6s" x="383.675" y="192.059" textLength="9.850" lengthAdjust="spacingAndGlyphs" style="font-family:'Liberation Sans',sans-serif;font-size:7.200px;stroke:#2e2626;stroke-width:0.25px">−6</text>
<text id="t_by7m" x="370.069" y="226.178" textLength="12.712" lengthAdjust="spacingAndGlyphs" style="font-family:'Liberation Sans',sans-serif;font-size:11.200px;stroke:#2e2626;stroke-width:0.25px">10</text>
<text id="t_by7s" x="383.366" y="221.929" textLength="9.216" lengthAdjust="spacingAndGlyphs" style="font-family:'Liberation Sans',sans-serif;font-size:7.200px;stroke:#2e2626;stroke-width:0.25px">−7</text>
<text id="t_bx3m" x="460.778" y="235.718" textLength="12.404" lengthAdjust="spacingAndGlyphs" style="font-family:'Liberation Sans',sans-serif;font-size:11.200px;stroke:#2e2626;stroke-width:0.25px">10</text>
<text id="t_bx3s" x="474.472" y="231.548" textLength="9.400" lengthAdjust="spacingAndGlyphs" style="font-family:'Liberation Sans',sans-serif;font-size:7.600px;stroke:#2e2626;stroke-width:0.25px">−3</text>
<text id="t_bx2m" x="658.791" y="235.718" textLength="12.572" lengthAdjust="spacingAndGlyphs" style="font-family:'Liberation Sans',sans-serif;font-size:11.200px;stroke:#2e2626;stroke-width:0.25px">10</text>
<text id="t_bx2s" x="672.741" y="231.978" textLength="9.072" lengthAdjust="spacingAndGlyphs" style="font-family:'Liberation Sans',sans-serif;font-size:7.600px;stroke:#2e2626;stroke-width:0.25px">−2</text>
<text id="t_ban_p" x="592.643" y="61.391" textLength="9.461" lengthAdjust="spacingAndGlyphs" style="font-family:'Liberation Sans',sans-serif;font-size:14.900px;font-style:italic">p</text>
<text id="t_ban_S" x="602.486" y="56.974" textLength="6.534" lengthAdjust="spacingAndGlyphs" style="font-family:'Liberation Sans',sans-serif;font-size:10.600px;stroke:#2e2626;stroke-width:0.25px;font-style:italic">X</text>
<text id="t_ban_th" x="602.391" y="65.422" textLength="9.981" lengthAdjust="spacingAndGlyphs" style="font-family:'Liberation Sans',sans-serif;font-size:9.600px;stroke:#2e2626;stroke-width:0.25px;font-style:italic">th</text>
<text id="t_ban_ap" x="615.677" y="62.144" textLength="9.678" lengthAdjust="spacingAndGlyphs" style="font-family:'Liberation Sans',sans-serif;font-size:14.900px">≈</text>
<text id="t_ban_v" x="629.776" y="61.109" textLength="45.349" lengthAdjust="spacingAndGlyphs" style="font-family:'Liberation Sans',sans-serif;font-size:14.900px">0.37%</text>
<text id="t_blg3d" x="654.339" y="143.496" textLength="4.559" lengthAdjust="spacingAndGlyphs" style="font-family:'Liberation Sans',sans-serif;font-size:8.600px;stroke:#2e2626;stroke-width:0.25px;font-style:italic">d</text>
<text id="t_blg3v" x="660.366" y="144.072" textLength="10.398" lengthAdjust="spacingAndGlyphs" style="font-family:'Liberation Sans',sans-serif;font-size:8.400px;stroke:#2e2626;stroke-width:0.25px">=3</text>
<text id="t_blg5d" x="654.339" y="155.171" textLength="4.559" lengthAdjust="spacingAndGlyphs" style="font-family:'Liberation Sans',sans-serif;font-size:8.600px;stroke:#2e2626;stroke-width:0.25px;font-style:italic">d</text>
<text id="t_blg5v" x="660.391" y="155.714" textLength="11.125" lengthAdjust="spacingAndGlyphs" style="font-family:'Liberation Sans',sans-serif;font-size:8.400px;stroke:#2e2626;stroke-width:0.25px">=5</text>
<text id="t_blg7d" x="654.339" y="166.845" textLength="4.559" lengthAdjust="spacingAndGlyphs" style="font-family:'Liberation Sans',sans-serif;font-size:8.600px;stroke:#2e2626;stroke-width:0.25px;font-style:italic">d</text>
<text id="t_blg7v" x="660.264" y="166.783" textLength="11.214" lengthAdjust="spacingAndGlyphs" style="font-family:'Liberation Sans',sans-serif;font-size:8.400px;stroke:#2e2626;stroke-width:0.25px">=7</text>
<text id="t_blg9d" x="654.339" y="178.519" textLength="4.559" lengthAdjust="spacingAndGlyphs" style="font-family:'Liberation Sans',sans-serif;font-size:8.600px;stroke:#2e2626;stroke-width:0.25px;font-style:italic">d</text>
<text id="t_blg9v" x="660.284" y="179.004" textLength="11.283" lengthAdjust="spacingAndGlyphs" style="font-family:'Liberation Sans',sans-serif;font-size:8.400px;stroke:#2e2626;stroke-width:0.25px">=9</text>
<text id="t_blg11d" x="654.339" y="190.193" textLength="4.559" lengthAdjust="spacingAndGlyphs" style="font-family:'Liberation Sans',sans-serif;font-size:8.600px;stroke:#2e2626;stroke-width:0.25px;font-style:italic">d</text>
<text id="t_blg11v" x="660.404" y="190.315" textLength="15.674" lengthAdjust="spacingAndGlyphs" style="font-family:'Liberation Sans',sans-serif;font-size:8.400px;stroke:#2e2626;stroke-width:0.25px">=11</text>
<text id="t_blg13d" x="654.339" y="201.867" textLength="4.559" lengthAdjust="spacingAndGlyphs" style="font-family:'Liberation Sans',sans-serif;font-size:8.600px;stroke:#2e2626;stroke-width:0.25px;font-style:italic">d</text>
<text id="t_blg13v" x="660.398" y="201.989" textLength="15.688" lengthAdjust="spacingAndGlyphs" style="font-family:'Liberation Sans',sans-serif;font-size:8.400px;stroke:#2e2626;stroke-width:0.25px">=13</text>
<text id="t_blg15d" x="654.339" y="213.542" textLength="4.559" lengthAdjust="spacingAndGlyphs" style="font-family:'Liberation Sans',sans-serif;font-size:8.600px;stroke:#2e2626;stroke-width:0.25px;font-style:italic">d</text>
<text id="t_blg15v" x="660.354" y="213.663" textLength="15.997" lengthAdjust="spacingAndGlyphs" style="font-family:'Liberation Sans',sans-serif;font-size:8.400px;stroke:#2e2626;stroke-width:0.25px">=15</text>
<text id="t_ayl_p" transform="translate(10.600,65.152) rotate(-90)" x="0" y="0" style="font-family:'Liberation Sans',sans-serif;font-size:12.500px;stroke:#2e2626;stroke-width:0.25px;font-style:italic">p</text>
<text id="t_ayl_sup" transform="translate(5.331,56.487) rotate(-90)" x="0" y="0" style="font-family:'Liberation Sans',sans-serif;font-size:8.300px;stroke:#2e2626;stroke-width:0.25px;font-style:italic">Z</text>
<text id="t_ayl_sub" transform="translate(13.646,56.796) rotate(-90)" x="0" y="0" style="font-family:'Liberation Sans',sans-serif;font-size:8.300px;stroke:#2e2626;stroke-width:0.25px;font-style:italic">L</text>
<text id="t_ayl_cl" transform="translate(9.502,49.812) rotate(-90)" x="0" y="0" style="font-family:'Liberation Sans',sans-serif;font-size:11.200px;stroke:#2e2626;stroke-width:0.25px">)</text>
<text id="t_axl_p" x="243.685" y="249.900" style="font-family:'Liberation Sans',sans-serif;font-size:12.200px;stroke:#2e2626;stroke-width:0.25px;font-style:italic">p</text>
<text id="t_axl_cl" x="251.131" y="249.900" style="font-family:'Liberation Sans',sans-serif;font-size:12.200px;stroke:#2e2626;stroke-width:0.25px">)</text>
<text id="t_byl_p" transform="translate(362.600,65.152) rotate(-90)" x="0" y="0" style="font-family:'Liberation Sans',sans-serif;font-size:12.500px;stroke:#2e2626;stroke-width:0.25px;font-style:italic">p</text>
<text id="t_byl_sup" transform="translate(357.381,56.769) rotate(-90)" x="0" y="0" style="font-family:'Liberation Sans',sans-serif;font-size:8.300px;stroke:#2e2626;stroke-width:0.25px;font-style:italic">X</text>
<text id="t_byl_sub" transform="translate(365.646,56.796) rotate(-90)" x="0" y="0" style="font-family:'Liberation Sans',sans-serif;font-size:8.300px;stroke:#2e2626;stroke-width:0.25px;font-style:italic">L</text>
<text id="t_byl_cl" transform="translate(361.502,49.812) rotate(-90)" x="0" y="0" style="font-family:'Liberation Sans',sans-serif;font-size:11.200px;stroke:#2e2626;stroke-width:0.25px">)</text>
<text id="t_bxl_p" x="595.446" y="249.900" style="font-family:'Liberation Sans',sans-serif;font-size:12.200px;stroke:#2e2626;stroke-width:0.25px;font-style:italic">p</text>
<text id="t_bxl_cl" x="603.174" y="249.900" style="font-family:'Liberation Sans',sans-serif;font-size:12.200px;stroke:#2e2626;stroke-width:0.25px">)</text>
<text id="t_ayl_w1" transform="translate(10.700,187.375) rotate(-90)" x="0" y="0" textLength="41.163" lengthAdjust="spacingAndGlyphs" style="font-family:'Liberation Sans',sans-serif;font-size:12.500px;stroke:#2e2626;stroke-width:0.25px">Logical</text>
<text id="t_ayl_w2" transform="translate(10.700,142.306) rotate(-90)" x="0" y="0" textLength="7.330" lengthAdjust="spacingAndGlyphs" style="font-family:'Liberation Sans',sans-serif;font-size:12.500px;stroke:#2e2626;stroke-width:0.25px">Z</text>
<text id="t_ayl_w3" transform="translate(10.700,130.419) rotate(-90)" x="0" y="0" textLength="29.367" lengthAdjust="spacingAndGlyphs" style="font-family:'Liberation Sans',sans-serif;font-size:12.500px;stroke:#2e2626;stroke-width:0.25px">error</text>
<text id="t_ayl_w4" transform="translate(10.700,97.224) rotate(-90)" x="0" y="0" textLength="23.742" lengthAdjust="spacingAndGlyphs" style="font-family:'Liberation Sans',sans-serif;font-size:12.500px;stroke:#2e2626;stroke-width:0.25px">rate</text>
<text id="t_ayl_op" transform="translate(10.700,68.982) rotate(-90)" x="0" y="0" style="font-family:'Liberation Sans',sans-serif;font-size:12.500px;stroke:#2e2626;stroke-width:0.25px">(</text>
<text id="t_axl_w1" x="128.457" y="249.900" textLength="46.119" lengthAdjust="spacingAndGlyphs" style="font-family:'Liberation Sans',sans-serif;font-size:12.200px;stroke:#2e2626;stroke-width:0.25px">Physical</text>
<text id="t_axl_w2" x="179.437" y="249.900" textLength="26.722" lengthAdjust="spacingAndGlyphs" style="font-family:'Liberation Sans',sans-serif;font-size:12.200px;stroke:#2e2626;stroke-width:0.25px">error</text>
<text id="t_axl_w3" x="210.576" y="249.900" textLength="24.556" lengthAdjust="spacingAndGlyphs" style="font-family:'Liberation Sans',sans-serif;font-size:12.200px;stroke:#2e2626;stroke-width:0.25px">rate</text>
<text id="t_axl_op" x="238.892" y="249.900" style="font-family:'Liberation Sans',sans-serif;font-size:12.200px;stroke:#2e2626;stroke-width:0.25px">(</text>
<text id="t_byl_w1" transform="translate(362.700,187.375) rotate(-90)" x="0" y="0" textLength="41.163" lengthAdjust="spacingAndGlyphs" style="font-family:'Liberation Sans',sans-serif;font-size:12.500px;stroke:#2e2626;stroke-width:0.25px">Logical</text>
<text id="t_byl_w2" transform="translate(362.700,142.064) rotate(-90)" x="0" y="0" textLength="8.030" lengthAdjust="spacingAndGlyphs" style="font-family:'Liberation Sans',sans-serif;font-size:12.500px;stroke:#2e2626;stroke-width:0.25px">X</text>
<text id="t_byl_w3" transform="translate(362.700,130.419) rotate(-90)" x="0" y="0" textLength="29.367" lengthAdjust="spacingAndGlyphs" style="font-family:'Liberation Sans',sans-serif;font-size:12.500px;stroke:#2e2626;stroke-width:0.25px">error</text>
<text id="t_byl_w4" transform="translate(362.700,97.224) rotate(-90)" x="0" y="0" textLength="23.742" lengthAdjust="spacingAndGlyphs" style="font-family:'Liberation Sans',sans-serif;font-size:12.500px;stroke:#2e2626;stroke-width:0.25px">rate</text>
<text id="t_byl_op" transform="translate(362.700,68.982) rotate(-90)" x="0" y="0" style="font-family:'Liberation Sans',sans-serif;font-size:12.500px;stroke:#2e2626;stroke-width:0.25px">(</text>
<text id="t_bxl_w1" x="480.185" y="249.900" textLength="46.496" lengthAdjust="spacingAndGlyphs" style="font-family:'Liberation Sans',sans-serif;font-size:12.200px;stroke:#2e2626;stroke-width:0.25px">Physical</text>
<text id="t_bxl_w2" x="531.544" y="249.900" textLength="27.284" lengthAdjust="spacingAndGlyphs" style="font-family:'Liberation Sans',sans-serif;font-size:12.200px;stroke:#2e2626;stroke-width:0.25px">error</text>
<text id="t_bxl_w3" x="562.493" y="249.900" textLength="24.039" lengthAdjust="spacingAndGlyphs" style="font-family:'Liberation Sans',sans-serif;font-size:12.200px;stroke:#2e2626;stroke-width:0.25px">rate</text>
<text id="t_bxl_op" x="590.807" y="249.900" style="font-family:'Liberation Sans',sans-serif;font-size:12.200px;stroke:#2e2626;stroke-width:0.25px">(</text>
</g>
</svg>
</body></html>
